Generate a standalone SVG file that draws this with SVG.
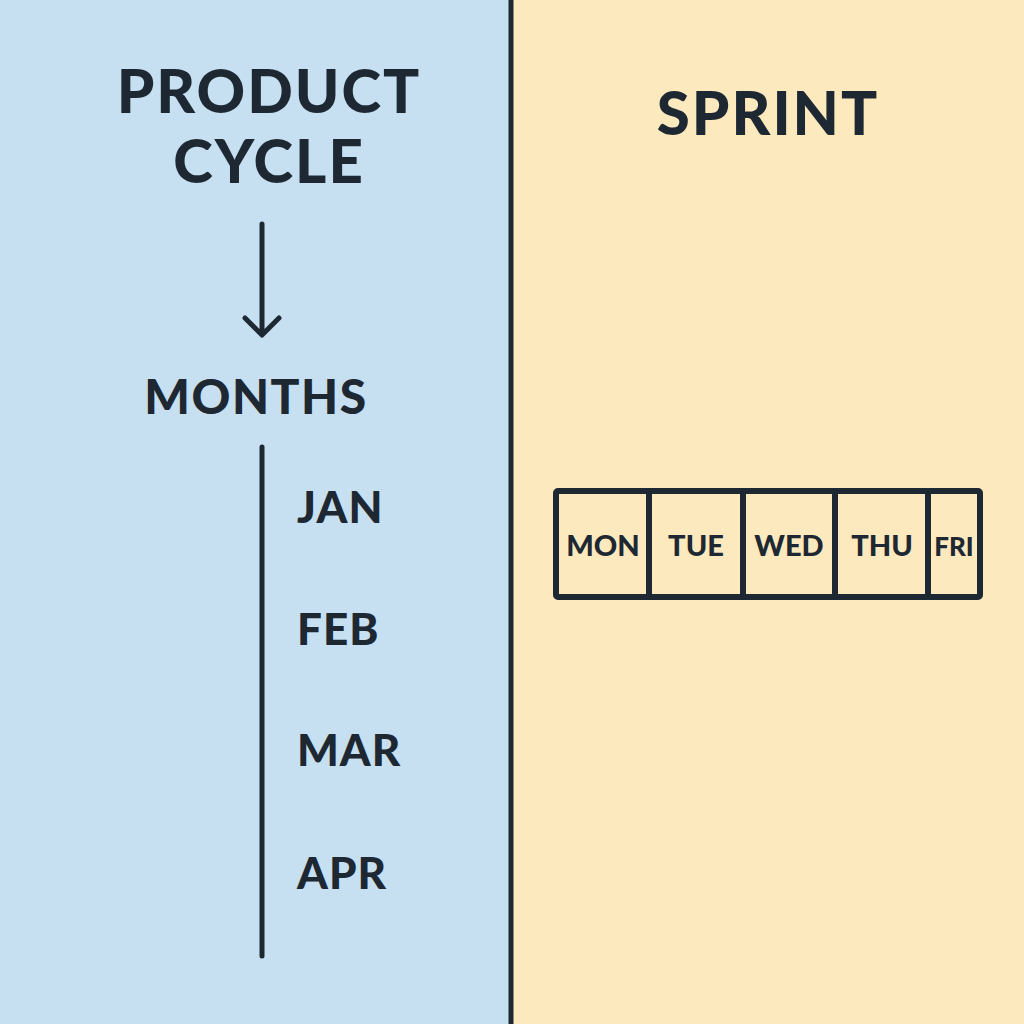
<svg xmlns="http://www.w3.org/2000/svg" width="1024" height="1024" viewBox="0 0 1024 1024">
<style>
text{font-family:"Lato","Inter","Liberation Sans",sans-serif;font-weight:900;fill:#1E2833;text-anchor:middle}
.title{font-size:60px;letter-spacing:2px}
.sub{font-size:48px;letter-spacing:1.5px}
.month{font-size:44px;text-anchor:start;letter-spacing:1px}
.day{font-size:29px}
.ln{stroke:#1E2833;stroke-width:5;fill:none;stroke-linecap:round;stroke-linejoin:round}
.box{stroke:#1E2833;stroke-width:6;fill:none;stroke-linejoin:round}
</style>
<rect x="0" y="0" width="511" height="1024" fill="#C6E0F1"/>
<rect x="511" y="0" width="513" height="1024" fill="#FDE9BE"/>
<line x1="511" y1="0" x2="511" y2="1024" stroke="#1E2833" stroke-width="5"/>
<g id="product-cycle">
<text class="title" x="269" y="113">PRODUCT</text>
<text class="title" x="269" y="183">CYCLE</text>
</g>
<g id="connectors">
<path class="ln" d="M262 224 V334 M245 318 L262 335 L279 318"/>
</g>
<g id="months">
<text class="sub" x="256" y="414">MONTHS</text>
<line class="ln" x1="262" y1="447" x2="262" y2="956" stroke-linecap="butt"/>
<text class="month" x="297" y="523">JAN</text>
<text class="month" x="297" y="645">FEB</text>
<text class="month" x="297" y="766">MAR</text>
<text class="month" x="297" y="889">APR</text>
</g>
<g id="sprint">
<text class="title" x="768" y="135">SPRINT</text>
</g>
<g id="week">
<rect class="box" x="556" y="491" width="424" height="106" rx="2"/>
<line class="box" x1="649" y1="491" x2="649" y2="597"/>
<line class="box" x1="743" y1="491" x2="743" y2="597"/>
<line class="box" x1="835" y1="491" x2="835" y2="597"/>
<line class="box" x1="928" y1="491" x2="928" y2="597"/>
<text class="day" x="603" y="556">MON</text>
<text class="day" x="696" y="556">TUE</text>
<text class="day" x="789" y="556">WED</text>
<text class="day" x="882" y="556">THU</text>
<text class="day" x="954" y="556" style="font-size:26px">FRI</text>
</g>
</svg>
